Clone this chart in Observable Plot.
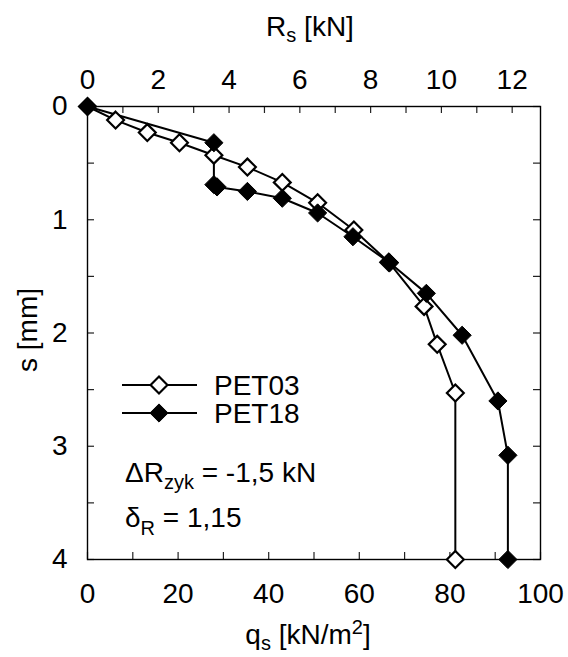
<!DOCTYPE html>
<html><head><meta charset="utf-8">
<script src="https://cdn.jsdelivr.net/npm/d3@7"></script>
<script src="https://cdn.jsdelivr.net/npm/@observablehq/plot@0.6"></script>
<style>body{margin:0;background:#fff} #chart{position:relative;width:568px;height:657px}</style>
</head><body><div id="chart"></div>
<script>
// --- data ---
const seriesNames = ["PET03", "PET18"];
const pet03Q = [0, 6.2, 13.2, 20.3, 27.9, 35.3, 43.0, 50.8, 58.8, 66.5, 74.3, 77.2, 81.2, 81.2];
const pet03S = [0, 0.12, 0.23, 0.32, 0.43, 0.535, 0.67, 0.85, 1.09, 1.375, 1.765, 2.10, 2.53, 4.0];
const pet18Q = [0, 27.9, 27.9, 28.6, 35.3, 43.0, 50.8, 58.6, 66.7, 74.8, 82.7, 90.6, 92.8, 92.8];
const pet18S = [0, 0.32, 0.69, 0.71, 0.75, 0.81, 0.94, 1.15, 1.38, 1.65, 2.02, 2.60, 3.08, 4.0];
const qTicksMajor = [0, 20, 40, 60, 80, 100];
const qTicksMinor = [0, 10, 20, 30, 40, 50, 60, 70, 80, 90, 100];
const rTicksMajor = [0, 2, 4, 6, 8, 10, 12];
const rTicksMinor = [0, 1, 2, 3, 4, 5, 6, 7, 8, 9, 10, 11, 12];
const sTicksMajor = [0, 1, 2, 3, 4];
const sTicksMinor = [0, 0.5, 1, 1.5, 2, 2.5, 3, 3.5, 4];
const rPerQ = 0.128; // kN of R_s per kN/m² of q_s (shaft area in m²)

// --- layout ---
const W = 568, H = 657, mL = 87, mR = 28, mT = 106, mB = 98;
const pw = W - mL - mR, ph = H - mT - mB, tk = 7;
const FONT = "'Liberation Sans', Arial, Helvetica, sans-serif";
const FS = 28, SUB = 20;

const pet03 = pet03Q.map((q, i) => ({q, s: pet03S[i]}));
const pet18 = pet18Q.map((q, i) => ({q, s: pet18S[i]}));

const plot = Plot.plot({
  width: W, height: H,
  marginLeft: mL, marginRight: mR, marginTop: mT, marginBottom: mB,
  style: {fontFamily: FONT, fontSize: FS + "px", color: "#000", background: "#fff"},
  x: {domain: [0, 100]},
  y: {domain: [0, 4], reverse: true},
  marks: [
    Plot.tickX(qTicksMinor, {x: d => d, insetTop: ph - tk, stroke: "#222", strokeWidth: 1.2}),
    Plot.tickX(rTicksMinor, {x: d => d / rPerQ, insetBottom: ph - tk, stroke: "#222", strokeWidth: 1.2}),
    Plot.tickY(sTicksMinor, {y: d => d, insetRight: pw - tk, stroke: "#222", strokeWidth: 1.2}),
    Plot.tickY(sTicksMinor, {y: d => d, insetLeft: pw - tk, stroke: "#222", strokeWidth: 1.2}),
    Plot.axisX(qTicksMajor, {anchor: "bottom", tickSize: 0, tickPadding: 24, label: null, tickFormat: d => String(d)}),
    Plot.axisX(rTicksMajor.map(r => r / rPerQ), {anchor: "top", tickSize: 0, tickPadding: 18, label: null,
      tickFormat: d => String(Math.round(d * rPerQ))}),
    Plot.axisY(sTicksMajor, {anchor: "left", tickSize: 0, tickPadding: 20, label: null, tickFormat: d => String(d)}),
    Plot.frame({stroke: "#000", strokeWidth: 1.4}),
    Plot.line(pet03, {x: "q", y: "s", stroke: "#000", strokeWidth: 2}),
    Plot.line(pet18, {x: "q", y: "s", stroke: "#000", strokeWidth: 2}),
    Plot.dot(pet03, {x: "q", y: "s", symbol: "diamond2", r: 7.6, stroke: "#000", strokeWidth: 2.2, fill: "#fff"}),
    Plot.dot(pet18, {x: "q", y: "s", symbol: "diamond2", r: 8.2, stroke: "#000", strokeWidth: 1, fill: "#000"})
  ]
});
document.getElementById("chart").appendChild(plot);

// --- titles, legend and annotations ---
const svg = d3.select(plot);
const g = svg.append("g").attr("font-family", FONT).attr("font-size", FS).attr("fill", "#000")
  .attr("text-anchor", "start");

const t1 = g.append("text").attr("x", 310).attr("y", 36).attr("text-anchor", "middle");
t1.append("tspan").text("R");
t1.append("tspan").attr("font-size", SUB).attr("dy", 6).text("s");
t1.append("tspan").attr("dy", -6).text(" [kN]");

const t2 = g.append("text").attr("x", 308).attr("y", 644).attr("text-anchor", "middle");
t2.append("tspan").text("q");
t2.append("tspan").attr("font-size", SUB).attr("dy", 6).text("s");
t2.append("tspan").attr("dy", -6).text(" [kN/m");
t2.append("tspan").attr("font-size", SUB).attr("dy", -10).text("2");
t2.append("tspan").attr("dy", 10).text("]");

g.append("text").attr("transform", "translate(37,330) rotate(-90)").attr("text-anchor", "middle").text("s [mm]");

const sym03 = d3.symbol(d3.symbolDiamond2, Math.PI * 7.6 * 7.6)();
const sym18 = d3.symbol(d3.symbolDiamond2, Math.PI * 8.2 * 8.2)();
const legendY = [385, 413];
seriesNames.forEach((name, i) => {
  const y = legendY[i];
  g.append("line").attr("x1", 122).attr("x2", 197).attr("y1", y).attr("y2", y)
    .attr("stroke", "#000").attr("stroke-width", 2);
  g.append("path").attr("d", i === 0 ? sym03 : sym18).attr("transform", `translate(159,${y})`)
    .attr("fill", i === 0 ? "#fff" : "#000").attr("stroke", "#000").attr("stroke-width", i === 0 ? 2.2 : 1);
  g.append("text").attr("x", 214).attr("y", y + 10).text(name);
});

const a1 = g.append("text").attr("x", 125).attr("y", 482);
a1.append("tspan").text("\u0394R");
a1.append("tspan").attr("font-size", SUB).attr("dy", 7).text("zyk");
a1.append("tspan").attr("dy", -7).text(" = -1,5 kN");

const a2 = g.append("text").attr("x", 125).attr("y", 527);
a2.append("tspan").text("\u03B4");
a2.append("tspan").attr("font-size", SUB).attr("dy", 8).text("R");
a2.append("tspan").attr("dy", -8).text(" = 1,15");
</script>
</body></html>
